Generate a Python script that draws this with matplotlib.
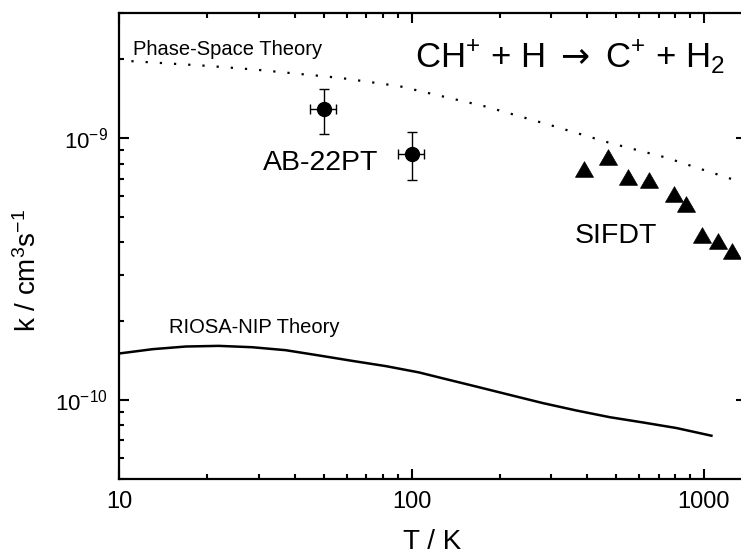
import matplotlib
matplotlib.use("Agg")
import matplotlib.pyplot as plt
import numpy as np
from matplotlib.ticker import LogLocator, NullFormatter

# phase-space theory (dotted)
T_pst = [11, 20, 29, 57, 91, 180, 300, 476, 741, 1000, 1267, 1400]
k_pst = [1.97e-9, 1.89e-9, 1.83e-9, 1.70e-9, 1.58e-9, 1.32e-9, 1.12e-9,
         9.6e-10, 8.44e-10, 7.56e-10, 6.94e-10, 6.7e-10]

# RIOSA-NIP theory (solid)
T_riosa = [10, 13, 16.9, 21.9, 28.5, 37.1, 48.2, 62.7, 81.5, 106, 128,
           167, 217, 282, 367, 477, 620, 806, 1062]
k_riosa = [1.505e-10, 1.563e-10, 1.600e-10, 1.609e-10, 1.590e-10, 1.549e-10,
           1.479e-10, 1.410e-10, 1.347e-10, 1.274e-10, 1.209e-10, 1.124e-10,
           1.045e-10, 9.72e-11, 9.11e-11, 8.59e-11, 8.20e-11, 7.81e-11, 7.30e-11]

# AB-22PT measurements
T_ab = [50, 100]
dT_ab = [5, 10]
k_ab = [1.29e-9, 8.74e-10]
dk_ab = [2.55e-10, 1.8e-10]

# SIFDT measurements
T_sifdt = [390, 470, 550, 650, 790, 870, 985, 1120, 1245]
k_sifdt = [7.64e-10, 8.44e-10, 7.14e-10, 6.94e-10, 6.14e-10, 5.59e-10,
           4.28e-10, 4.06e-10, 3.70e-10]

plt.rcParams['font.family'] = ['Liberation Sans', 'DejaVu Sans']
plt.rcParams['mathtext.fontset'] = 'custom'
plt.rcParams['mathtext.rm'] = 'Liberation Sans'
plt.rcParams['mathtext.it'] = 'Liberation Sans:italic'
plt.rcParams['mathtext.bf'] = 'Liberation Sans:bold'
plt.rcParams['mathtext.sf'] = 'DejaVu Sans'

fig = plt.figure(figsize=(7.41, 5.56), dpi=100)
ax = fig.add_axes([0.161, 0.139, 0.8464, 0.837])

ax.plot(T_pst, k_pst, color='k', lw=1.6, linestyle=(0, (1, 5.4)))
ax.plot(T_riosa, k_riosa, color='k', lw=1.8)
ax.errorbar(T_ab, k_ab, xerr=dT_ab, yerr=dk_ab, fmt='o', color='k', ms=10,
            capsize=3.5, elinewidth=1, capthick=1)
tri = [(0, 0.433), (-0.5, -0.433), (0.5, -0.433), (0, 0.433)]
ax.plot(T_sifdt, k_sifdt, linestyle='none', marker=tri, color='k', ms=13,
        mew=0.5)

ax.set_xscale('log')
ax.set_yscale('log')
ax.set_xlim(10, 1400)
ax.set_ylim(5e-11, 3e-9)

ax.set_xticks([10, 100, 1000])
ax.set_xticklabels(['10', '100', '1000'])
ax.xaxis.set_minor_locator(LogLocator(base=10, subs=np.arange(2, 10), numticks=20))
ax.xaxis.set_minor_formatter(NullFormatter())
ax.set_yticks([1e-10, 1e-9])
ax.set_yticklabels([r'$\mathregular{10^{-10}}$', r'$\mathregular{10^{-9}}$'])
ax.yaxis.set_minor_locator(LogLocator(base=10, subs=np.arange(2, 10), numticks=20))
ax.yaxis.set_minor_formatter(NullFormatter())

ax.tick_params(which='both', direction='in', top=True, right=True, width=1.5)
ax.tick_params(which='major', length=7.2)
ax.tick_params(which='minor', length=3.8)
ax.tick_params(axis='x', labelsize=17, pad=9)
ax.tick_params(axis='y', labelsize=16, pad=8)
for s in ax.spines.values():
    s.set_linewidth(1.6)

ax.set_xlabel('T / K', fontsize=20)
ax.xaxis.set_label_coords(0.4995, -0.108)
ax.set_ylabel(r'k / cm$^{3}$s$^{-1}$', fontsize=20)
ax.yaxis.set_label_coords(-0.123, 0.448)

ax.text(0.4715, 0.8846, r'CH$^{+}$ + H $\mathsf{\rightarrow}$ C$^{+}$ + H$_{2}$',
        transform=ax.transAxes, fontsize=25, ha='left', va='baseline')
ax.text(0.0218, 0.9104, 'Phase-Space Theory', transform=ax.transAxes,
        fontsize=14.5, ha='left', va='baseline')
ax.text(0.0792, 0.3124, 'RIOSA-NIP Theory', transform=ax.transAxes,
        fontsize=14.5, ha='left', va='baseline')
ax.text(0.3205, 0.6633, 'AB-22PT', transform=ax.transAxes,
        fontsize=20.5, ha='center', va='baseline')
ax.text(0.7266, 0.5071, 'SIFDT', transform=ax.transAxes,
        fontsize=20.5, ha='left', va='baseline')

fig.savefig('out.png', dpi=100)
